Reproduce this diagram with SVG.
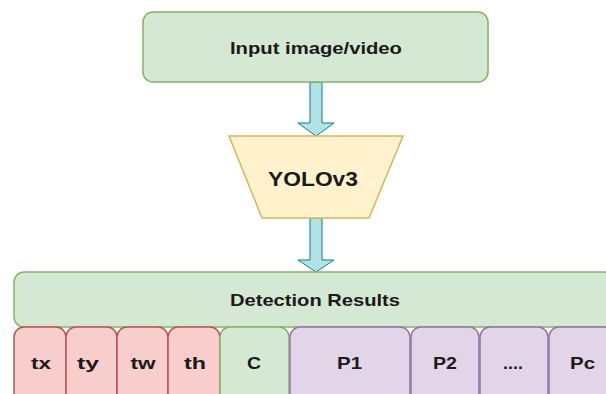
<svg xmlns="http://www.w3.org/2000/svg" width="606" height="394" viewBox="0 0 606 394">
<style>
text{font-family:"Liberation Sans",Arial,sans-serif;font-weight:bold;fill:#1a1a1a;text-anchor:middle;dominant-baseline:central}
.g{fill:#d5e8d4;stroke:#82b366;stroke-width:1.5}
.r{fill:#f8cecc;stroke:#b85450;stroke-width:1.5}
.p{fill:#e1d5e7;stroke:#9673a6;stroke-width:1.5}
.y{fill:#fff2cc;stroke:#d6b656;stroke-width:1.5}
.a{fill:#b0e3e6;stroke:#0e8088;stroke-width:1}
.t{font-size:17px}
</style>
<rect width="606" height="394" fill="#ffffff"/>
<g id="connectors">
<path class="a" d="M310,82 L322,82 L322,123 L334,123 L316,136 L298,123 L310,123 Z"/>
<path class="a" d="M310,218 L322,218 L322,260 L334,260 L316,272 L298,260 L310,260 Z"/>
</g>
<g id="input">
<rect class="g" x="143" y="12" width="345" height="70" rx="10"/>
<text class="t" x="316" y="48" textLength="172" lengthAdjust="spacingAndGlyphs">Input image/video</text>
</g>
<g id="yolo">
<path class="y" d="M229,136 L403,136 L369,218 L262,218 Z"/>
<text x="313" y="178" style="font-size:21px" textLength="90" lengthAdjust="spacingAndGlyphs">YOLOv3</text>
</g>
<g id="detection">
<rect class="g" x="14" y="272" width="600" height="55" rx="10"/>
<text class="t" x="315" y="300" textLength="170" lengthAdjust="spacingAndGlyphs">Detection Results</text>
</g>
<g id="tx"><rect class="r" x="14" y="327" width="52" height="80" rx="10"/><text class="t" x="41" y="363" textLength="20" lengthAdjust="spacingAndGlyphs">tx</text></g>
<g id="ty"><rect class="r" x="66" y="327" width="51" height="80" rx="10"/><text class="t" x="88" y="363" textLength="22" lengthAdjust="spacingAndGlyphs">ty</text></g>
<g id="tw"><rect class="r" x="117" y="327" width="51" height="80" rx="10"/><text class="t" x="143" y="363" textLength="25" lengthAdjust="spacingAndGlyphs">tw</text></g>
<g id="th"><rect class="r" x="168" y="327" width="52" height="80" rx="10"/><text class="t" x="195" y="363" textLength="22" lengthAdjust="spacingAndGlyphs">th</text></g>
<g id="c"><rect class="g" x="220" y="327" width="69" height="80" rx="10"/><text class="t" x="254" y="363" textLength="14" lengthAdjust="spacingAndGlyphs">C</text></g>
<g id="p1"><rect class="p" x="290" y="327" width="120" height="80" rx="10"/><text class="t" x="349.5" y="363" textLength="25" lengthAdjust="spacingAndGlyphs">P1</text></g>
<g id="p2"><rect class="p" x="411" y="327" width="68" height="80" rx="10"/><text class="t" x="445" y="363" textLength="24" lengthAdjust="spacingAndGlyphs">P2</text></g>
<g id="dots"><rect class="p" x="480" y="327" width="68" height="80" rx="10"/><text class="t" x="513" y="363" textLength="20" lengthAdjust="spacingAndGlyphs">....</text></g>
<g id="pc"><rect class="p" x="549" y="327" width="70" height="80" rx="10"/><text class="t" x="582.5" y="363" textLength="25" lengthAdjust="spacingAndGlyphs">Pc</text></g>
</svg>
